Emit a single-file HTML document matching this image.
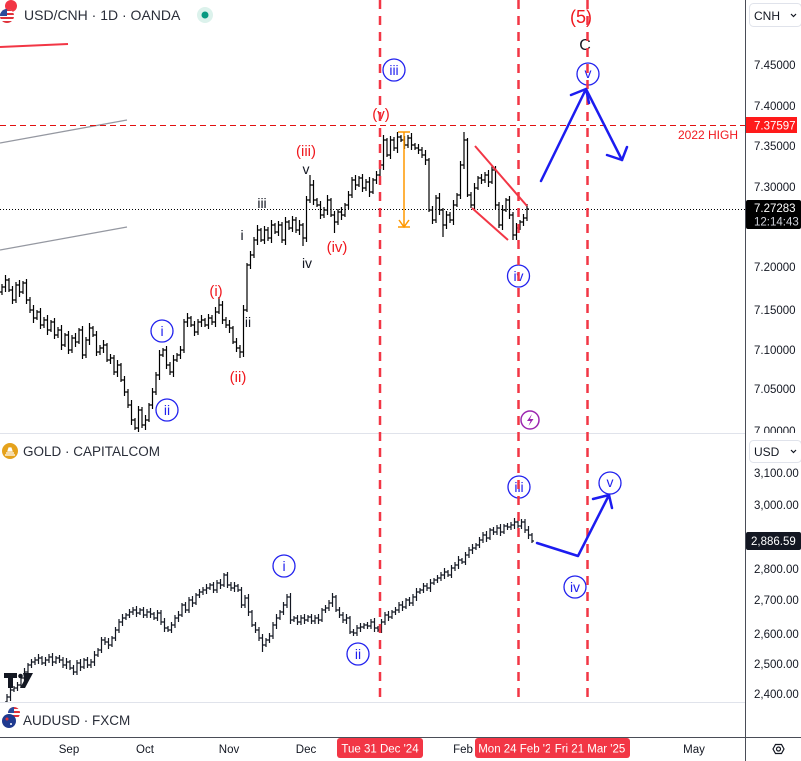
<!DOCTYPE html>
<html><head><meta charset="utf-8"><style>html,body{margin:0;padding:0;background:#fff;}svg{display:block;}</style></head>
<body>
<svg width="801" height="761" viewBox="0 0 801 761" xmlns="http://www.w3.org/2000/svg" font-family="'Liberation Sans', sans-serif">
<defs>
<clipPath id="p1"><rect x="0" y="0" width="745" height="433"/></clipPath>
<clipPath id="p2"><rect x="0" y="434" width="745" height="268"/></clipPath>
<clipPath id="ax1"><rect x="746" y="0" width="55" height="433"/></clipPath>
<clipPath id="flag1"><circle cx="7" cy="16" r="7"/></clipPath>
<clipPath id="flag2"><circle cx="14" cy="713" r="6"/></clipPath>
</defs>
<rect width="801" height="761" fill="#fff"/>

<!-- pane separators -->
<line x1="0" y1="433.5" x2="745" y2="433.5" stroke="#e0e3eb" stroke-width="1"/>
<line x1="0" y1="702.5" x2="745" y2="702.5" stroke="#e0e3eb" stroke-width="1"/>

<!-- drawings pane1 -->
<line x1="0" y1="143" x2="127" y2="120" stroke="#9598a1" stroke-width="1.3"/>
<line x1="0" y1="250" x2="127" y2="227" stroke="#9598a1" stroke-width="1.3"/>
<line x1="0" y1="47" x2="68" y2="44" stroke="#f23645" stroke-width="2"/>
<line x1="0" y1="125.5" x2="745" y2="125.5" stroke="#e01010" stroke-width="1" stroke-dasharray="6 4"/>
<line x1="0" y1="209.5" x2="745" y2="209.5" stroke="#000" stroke-width="1" stroke-dasharray="1 2"/>

<!-- USD/CNH bars -->
<g clip-path="url(#p1)">
<path fill="none" stroke="#000" stroke-width="1.2" d="M2 284V295M0 292h2M2 287h2M5.5 275V292M3.5 287h2M5.5 280h2M9 278V292M7 280h2M9 290h2M12.5 286V304M10.5 290h2M12.5 300h2M16 282V303M14 300h2M16 285h2M19.5 280V297M17.5 285h2M19.5 292h2M23 281V294M21 292h2M23 283h2M26.5 279V304M24.5 283h2M26.5 300h2M30 297V313M28 300h2M30 310h2M33.5 305V323M31.5 310h2M33.5 318h2M37 310V320M35 318h2M37 312h2M40.5 308V329M38.5 312h2M40.5 325h2M44 317V328M42 325h2M44 320h2M47.5 315V335M45.5 320h2M47.5 330h2M51 320V332M49 330h2M51 322h2M54.5 318V339M52.5 322h2M54.5 335h2M58 327V338M56 335h2M58 330h2M61.5 325V350M59.5 330h2M61.5 345h2M65 333V347M63 345h2M65 335h2M68.5 331V354M66.5 335h2M68.5 350h2M72 335V353M70 350h2M72 338h2M75.5 333V347M73.5 338h2M75.5 342h2M79 328V344M77 342h2M79 330h2M82.5 326V359M80.5 330h2M82.5 355h2M86 337V358M84 355h2M86 340h2M89.5 323V345M87.5 340h2M89.5 328h2M93 326V337M91 328h2M93 335h2M96.5 331V356M94.5 335h2M96.5 352h2M100 345V355M98 352h2M100 348h2M103.5 340V353M101.5 348h2M103.5 345h2M107 343V362M105 345h2M107 360h2M110.5 354V364M108.5 360h2M110.5 358h2M114 355V375M112 358h2M114 372h2M117.5 360V377M115.5 372h2M117.5 365h2M121 363V382M119 365h2M121 380h2M124.5 376V396M122.5 380h2M124.5 392h2M128 389V408M126 392h2M128 405h2M131.5 400V425M129.5 405h2M131.5 420h2M135 418V430M133 420h2M135 428h2M138.5 406V432M136.5 428h2M138.5 410h2M142 407V428M140 410h2M142 425h2M145.5 415V430M143.5 425h2M145.5 420h2M149 403V422M147 420h2M149 405h2M152.5 388V409M150.5 405h2M152.5 392h2M156 372V395M154 392h2M156 375h2M159.5 350V380M157.5 375h2M159.5 355h2M163 348V357M161 355h2M163 350h2M166.5 346V369M164.5 350h2M166.5 365h2M170 362V375M168 365h2M170 372h2M173.5 355V377M171.5 372h2M173.5 360h2M177 353V362M175 360h2M177 355h2M180.5 346V359M178.5 355h2M180.5 350h2M184 319V353M182 350h2M184 322h2M187.5 313V327M185.5 322h2M187.5 318h2M191 316V327M189 318h2M191 325h2M194.5 321V336M192.5 325h2M194.5 332h2M198 319V335M196 332h2M198 322h2M201.5 315V327M199.5 322h2M201.5 320h2M205 318V327M203 320h2M205 325h2M208.5 314V329M206.5 325h2M208.5 318h2M212 315V325M210 318h2M212 322h2M215.5 307V327M213.5 322h2M215.5 312h2M219 297V314M217 312h2M219 305h2M222.5 301V324M220.5 305h2M222.5 320h2M226 317V328M224 320h2M226 325h2M229.5 320V333M227.5 325h2M229.5 328h2M233 326V344M231 328h2M233 342h2M236.5 338V352M234.5 342h2M236.5 348h2M240 345V358M238 348h2M240 352h2M243.5 305V357M241.5 352h2M243.5 310h2M247 263V312M245 310h2M247 265h2M250.5 251V269M248.5 265h2M250.5 255h2M254 237V258M252 255h2M254 240h2M257.5 225V245M255.5 240h2M257.5 230h2M261 228V242M259 230h2M261 240h2M264.5 226V244M262.5 240h2M264.5 230h2M268 227V241M266 230h2M268 238h2M271.5 220V243M269.5 238h2M271.5 225h2M275 223V234M273 225h2M275 232h2M278.5 221V236M276.5 232h2M278.5 225h2M282 222V243M280 225h2M282 240h2M285.5 217V245M283.5 240h2M285.5 222h2M289 220V230M287 222h2M289 228h2M292.5 216V232M290.5 228h2M292.5 220h2M296 217V233M294 220h2M296 230h2M299.5 220V235M297.5 230h2M299.5 225h2M303 223V246M301 225h2M303 238h2M306.5 196V242M304.5 238h2M306.5 200h2M310 175V203M308 200h2M310 185h2M313.5 180V205M311.5 185h2M313.5 200h2M317 198V207M315 200h2M317 205h2M320.5 201V219M318.5 205h2M320.5 215h2M324 207V218M322 215h2M324 210h2M327.5 195V215M325.5 210h2M327.5 200h2M331 198V217M329 200h2M331 215h2M334.5 211V233M332.5 215h2M334.5 222h2M338 209V225M336 222h2M338 212h2M341.5 207V220M339.5 212h2M341.5 215h2M345 203V217M343 215h2M345 205h2M348.5 191V209M346.5 205h2M348.5 195h2M352 177V198M350 195h2M352 180h2M355.5 175V190M353.5 180h2M355.5 185h2M359 176V187M357 185h2M359 178h2M362.5 174V192M360.5 178h2M362.5 188h2M366 179V191M364 188h2M366 182h2M369.5 177V197M367.5 182h2M369.5 192h2M373 178V194M371 192h2M373 180h2M376.5 171V184M374.5 180h2M376.5 175h2M380 162V178M378 175h2M380 165h2M383.5 135V170M381.5 165h2M383.5 140h2M387 138V157M385 140h2M387 155h2M390.5 136V159M388.5 155h2M390.5 140h2M394 137V151M392 140h2M394 148h2M397.5 132V153M395.5 148h2M397.5 137h2M401 135V142M399 137h2M401 140h2M404.5 136V149M402.5 140h2M404.5 145h2M408 135V148M406 145h2M408 138h2M411.5 133V150M409.5 138h2M411.5 145h2M415 143V150M413 145h2M415 148h2M418.5 144V154M416.5 148h2M418.5 150h2M422 147V158M420 150h2M422 155h2M425.5 150V165M423.5 155h2M425.5 160h2M429 158V212M427 160h2M429 210h2M432.5 206V224M430.5 210h2M432.5 220h2M436 195V223M434 220h2M436 198h2M439.5 193V215M437.5 198h2M439.5 210h2M443 208V237M441 210h2M443 225h2M446.5 211V229M444.5 225h2M446.5 215h2M450 212V223M448 215h2M450 220h2M453.5 200V225M451.5 220h2M453.5 205h2M457 193V207M455 205h2M457 195h2M460.5 161V199M458.5 195h2M460.5 165h2M464 132V169M462 165h2M464 140h2M467.5 138V197M465.5 140h2M467.5 195h2M471 192V208M469 195h2M471 205h2M474.5 183V210M472.5 205h2M474.5 188h2M478 176V190M476 188h2M478 178h2M481.5 174V184M479.5 178h2M481.5 180h2M485 172V183M483 180h2M485 175h2M488.5 170V187M486.5 175h2M488.5 182h2M492 166V184M490 182h2M492 170h2M495.5 166V209M493.5 170h2M495.5 205h2M499 202V228M497 205h2M499 225h2M502.5 205V230M500.5 225h2M502.5 210h2M506 198V212M504 210h2M506 200h2M509.5 196V219M507.5 200h2M509.5 215h2M513 212V240M511 215h2M513 235h2M516.5 223V240M514.5 235h2M516.5 228h2M520 220V230M518 228h2M520 222h2M523.5 214V226M521.5 222h2M523.5 218h2M527 204V221M525 218h2M527 209h2"/>
</g>

<!-- GOLD bars -->
<g clip-path="url(#p2)">
<path fill="none" stroke="#131722" stroke-width="1.2" d="M7 694V705M5 702h2M7 697h2M10.5 686V701M8.5 697h2M10.5 690h2M14 686V692M12 690h2M14 688h2M17.5 682V691M15.5 688h2M17.5 685h2M21 675V688M19 685h2M21 678h2M24.5 668V682M22.5 678h2M24.5 672h2M28 663V674M26 672h2M28 665h2M31.5 659V668M29.5 665h2M31.5 662h2M35 657V665M33 662h2M35 660h2M38.5 654V664M36.5 660h2M38.5 658h2M42 656V665M40 658h2M42 663h2M45.5 657V666M43.5 663h2M45.5 660h2M49 654V663M47 660h2M49 657h2M52.5 653V666M50.5 657h2M52.5 662h2M56 656V664M54 662h2M56 658h2M59.5 655V663M57.5 658h2M59.5 660h2M63 657V668M61 660h2M63 665h2M66.5 658V669M64.5 665h2M66.5 662h2M70 660V670M68 662h2M70 668h2M73.5 665V675M71.5 668h2M73.5 672h2M77 660V675M75 672h2M77 663h2M80.5 659V671M78.5 663h2M80.5 667h2M84 658V669M82 667h2M84 660h2M87.5 657V668M85.5 660h2M87.5 665h2M91 659V668M89 665h2M91 662h2M94.5 651V666M92.5 662h2M94.5 655h2M98 648V657M96 655h2M98 650h2M101.5 637V653M99.5 650h2M101.5 640h2M105 637V645M103 640h2M105 642h2M108.5 638V649M106.5 642h2M108.5 645h2M112 636V647M110 645h2M112 638h2M115.5 627V641M113.5 638h2M115.5 630h2M119 619V633M117 630h2M119 622h2M122.5 614V626M120.5 622h2M122.5 618h2M126 613V620M124 618h2M126 615h2M129.5 609V618M127.5 615h2M129.5 612h2M133 607V615M131 612h2M133 610h2M136.5 606V617M134.5 610h2M136.5 613h2M140 608V615M138 613h2M140 610h2M143.5 607V618M141.5 610h2M143.5 615h2M147 609V618M145 615h2M147 612h2M150.5 608V618M148.5 612h2M150.5 614h2M154 612V620M152 614h2M154 618h2M157.5 610V621M155.5 618h2M157.5 613h2M161 610V625M159 613h2M161 622h2M164.5 618V632M162.5 622h2M164.5 628h2M168 626V632M166 628h2M168 630h2M171.5 622V633M169.5 630h2M171.5 625h2M175 615V628M173 625h2M175 618h2M178.5 611V622M176.5 618h2M178.5 615h2M182 603V617M180 615h2M182 605h2M185.5 602V613M183.5 605h2M185.5 610h2M189 597V613M187 610h2M189 600h2M192.5 596V607M190.5 600h2M192.5 603h2M196 593V605M194 603h2M196 595h2M199.5 589V598M197.5 595h2M199.5 592h2M203 587V595M201 592h2M203 590h2M206.5 584V594M204.5 590h2M206.5 588h2M210 583V590M208 588h2M210 585h2M213.5 582V593M211.5 585h2M213.5 590h2M217 580V593M215 590h2M217 583h2M220.5 579V589M218.5 583h2M220.5 585h2M224 573V587M222 585h2M224 575h2M227.5 572V588M225.5 575h2M227.5 585h2M231 582V591M229 585h2M231 588h2M234.5 582V592M232.5 588h2M234.5 586h2M238 584V592M236 586h2M238 590h2M241.5 587V608M239.5 590h2M241.5 605h2M245 595V608M243 605h2M245 598h2M248.5 594V616M246.5 598h2M248.5 612h2M252 610V627M250 612h2M252 625h2M255.5 622V633M253.5 625h2M255.5 630h2M259 627V641M257 630h2M259 638h2M262.5 634V652M260.5 638h2M262.5 645h2M266 638V647M264 645h2M266 640h2M269.5 633V643M267.5 640h2M269.5 636h2M273 622V639M271 636h2M273 625h2M276.5 614V629M274.5 625h2M276.5 618h2M280 610V620M278 618h2M280 612h2M283.5 602V615M281.5 612h2M283.5 605h2M287 594V608M285 605h2M287 597h2M290.5 593V624M288.5 597h2M290.5 620h2M294 616V622M292 620h2M294 618h2M297.5 615V625M295.5 618h2M297.5 622h2M301 615V625M299 622h2M301 618h2M304.5 614V624M302.5 618h2M304.5 620h2M308 615V622M306 620h2M308 617h2M311.5 614V624M309.5 617h2M311.5 621h2M315 615V624M313 621h2M315 618h2M318.5 614V624M316.5 618h2M318.5 620h2M322 608V622M320 620h2M322 610h2M325.5 605V613M323.5 610h2M325.5 608h2M329 600V611M327 608h2M329 603h2M332.5 593V607M330.5 603h2M332.5 597h2M336 595V612M334 597h2M336 610h2M339.5 607V618M337.5 610h2M339.5 615h2M343 612V623M341 615h2M343 620h2M346.5 614V624M344.5 620h2M346.5 618h2M350 616V634M348 618h2M350 632h2M353.5 629V636M351.5 632h2M353.5 633h2M357 625V636M355 633h2M357 628h2M360.5 623V632M358.5 628h2M360.5 627h2M364 623V629M362 627h2M364 625h2M367.5 622V629M365.5 625h2M367.5 626h2M371 619V629M369 626h2M371 622h2M374.5 618V632M372.5 622h2M374.5 628h2M378 626V632M376 628h2M378 630h2M381.5 619V633M379.5 630h2M381.5 622h2M385 612V625M383 622h2M385 615h2M388.5 611V621M386.5 615h2M388.5 617h2M392 610V619M390 617h2M392 612h2M395.5 607V615M393.5 612h2M395.5 610h2M399 602V613M397 610h2M399 605h2M402.5 601V611M400.5 605h2M402.5 607h2M406 598V609M404 607h2M406 600h2M409.5 597V606M407.5 600h2M409.5 603h2M413 594V606M411 603h2M413 597h2M416.5 588V601M414.5 597h2M416.5 592h2M420 588V594M418 592h2M420 590h2M423.5 583V593M421.5 590h2M423.5 586h2M427 583V591M425 586h2M427 588h2M430.5 579V592M428.5 588h2M430.5 583h2M434 578V585M432 583h2M434 580h2M437.5 575V583M435.5 580h2M437.5 578h2M441 572V581M439 578h2M441 575h2M444.5 568V579M442.5 575h2M444.5 572h2M448 570V577M446 572h2M448 575h2M451.5 565V578M449.5 575h2M451.5 568h2M455 562V571M453 568h2M455 565h2M458.5 556V569M456.5 565h2M458.5 560h2M462 558V564M460 560h2M462 562h2M465.5 552V565M463.5 562h2M465.5 555h2M469 547V558M467 555h2M469 550h2M472.5 544V554M470.5 550h2M472.5 548h2M476 543V550M474 548h2M476 545h2M479.5 537V548M477.5 545h2M479.5 540h2M483 532V543M481 540h2M483 535h2M486.5 531V542M484.5 535h2M486.5 538h2M490 528V540M488 538h2M490 530h2M493.5 527V535M491.5 530h2M493.5 532h2M497 525V535M495 532h2M497 528h2M500.5 524V536M498.5 528h2M500.5 532h2M504 524V534M502 532h2M504 526h2M507.5 523V530M505.5 526h2M507.5 527h2M511 522V530M509 527h2M511 525h2M514.5 518V529M512.5 525h2M514.5 522h2M518 520V528M516 522h2M518 526h2M521.5 519V529M519.5 526h2M521.5 522h2M525 519V533M523 522h2M525 530h2M528.5 526V539M526.5 530h2M528.5 535h2M532 533V543M530 535h2M532 541h2"/>
</g>

<!-- TradingView logo -->
<g fill="#131722">
<path d="M4 673h13v5h-4v10h-5v-10h-4z"/>
<circle cx="20.5" cy="676" r="2.3"/>
<path d="M23 673h10l-8 15h-5l4.5-8z"/>
</g>

<!-- triangle, orange arrow -->
<line x1="475" y1="146" x2="527" y2="206" stroke="#f23645" stroke-width="2"/>
<line x1="472" y1="208" x2="508" y2="240" stroke="#f23645" stroke-width="2"/>
<g stroke="#ff9800" stroke-width="1.5" fill="none">
<line x1="404" y1="132" x2="404" y2="227"/>
<line x1="398" y1="132" x2="410" y2="132"/>
<line x1="398" y1="227" x2="410" y2="227"/>
<polyline points="399,220 404,227 409,220"/>
</g>

<!-- circle wave labels -->
<g fill="#fff" stroke="#2222ee" stroke-width="1.3">
<circle cx="394" cy="70" r="11"/>
<circle cx="518.5" cy="276" r="11"/>
<circle cx="588" cy="74" r="11"/>
<circle cx="162" cy="331" r="11"/>
<circle cx="167" cy="410" r="11"/>
<circle cx="284" cy="566" r="11"/>
<circle cx="358" cy="654" r="11"/>
<circle cx="519" cy="487" r="11"/>
<circle cx="575" cy="587" r="11"/>
<circle cx="610" cy="483" r="11"/>
</g>
<g fill="#2222ee" font-size="14" text-anchor="middle">
<text x="394" y="75">iii</text>
<text x="518.5" y="281">iv</text>
<text x="588" y="78">v</text>
<text x="162" y="336">i</text>
<text x="167" y="415">ii</text>
<text x="284" y="571">i</text>
<text x="358" y="659">ii</text>
<text x="519" y="492">iii</text>
<text x="575" y="592">iv</text>
<text x="610" y="487">v</text>
</g>

<!-- red labels -->
<g fill="#f0181e" font-size="15" text-anchor="middle">
<text x="581" y="23" font-size="18">(5)</text>
<text x="381" y="119">(v)</text>
<text x="306" y="156">(iii)</text>
<text x="337" y="252">(iv)</text>
<text x="216" y="296">(i)</text>
<text x="238" y="382">(ii)</text>
</g>
<!-- black labels -->
<g fill="#131722" font-size="14" text-anchor="middle">
<text x="585" y="50" font-size="16">C</text>
<text x="306" y="174">v</text>
<text x="262" y="208">iii</text>
<text x="242" y="240">i</text>
<text x="307" y="268">iv</text>
<text x="248" y="327">ii</text>
</g>

<!-- vertical red dashed lines -->
<g stroke="#f23645" stroke-width="2.5" stroke-dasharray="9 7">
<line x1="380" y1="0" x2="380" y2="700"/>
<line x1="518.5" y1="0" x2="518.5" y2="700"/>
<line x1="587.5" y1="0" x2="587.5" y2="700"/>
</g>

<!-- purple icon -->
<circle cx="530" cy="420" r="9" fill="#fff" stroke="#9c27b0" stroke-width="1.5"/>
<path d="M532 414l-5 7h3.5l-2 5 5-7h-3.5z" fill="#9c27b0"/>

<!-- blue arrows -->
<g stroke="#1c1cf0" stroke-width="2.5" fill="none" stroke-linecap="round" stroke-linejoin="round">
<polyline points="541,181 586,89 622,160"/>
<polyline points="571,95 586,89 589,103"/>
<polyline points="607,155 622,160 627,147"/>
<polyline points="537,543 578,556 609,495"/>
<polyline points="593,499 609,495 612,508"/>
</g>

<!-- 2022 HIGH -->
<text x="738" y="139" fill="#f0181e" font-size="12" text-anchor="end">2022 HIGH</text>

<!-- right axis -->
<line x1="745.5" y1="0" x2="745.5" y2="761" stroke="#4a4d57" stroke-width="1"/>
<g fill="#131722" font-size="11.5">
<text x="754" y="69">7.45000</text>
<text x="754" y="110">7.40000</text>
<text x="754" y="150">7.35000</text>
<text x="754" y="191">7.30000</text>
<text x="754" y="271">7.20000</text>
<text x="754" y="314">7.15000</text>
<text x="754" y="354">7.10000</text>
<text x="754" y="393">7.05000</text>
<text x="754" y="435" clip-path="url(#ax1)">7.00000</text>
<text x="754" y="477">3,100.00</text>
<text x="754" y="509">3,000.00</text>
<text x="754" y="573">2,800.00</text>
<text x="754" y="604">2,700.00</text>
<text x="754" y="638">2,600.00</text>
<text x="754" y="668">2,500.00</text>
<text x="754" y="698">2,400.00</text>
</g>
<!-- CNH / USD buttons -->
<rect x="749.5" y="3.5" width="52" height="23" rx="4" fill="#fff" stroke="#e0e3eb"/>
<text x="754" y="20" fill="#131722" font-size="12">CNH</text>
<path d="M791 14l2.5 2.5 2.5-2.5" fill="none" stroke="#131722" stroke-width="1.2"/>
<rect x="749.5" y="440.5" width="52" height="22" rx="4" fill="#fff" stroke="#e0e3eb"/>
<text x="754" y="456" fill="#131722" font-size="12">USD</text>
<path d="M791 450l2.5 2.5 2.5-2.5" fill="none" stroke="#131722" stroke-width="1.2"/>
<!-- price boxes -->
<rect x="746" y="117" width="51" height="16" fill="#ff1a1a"/>
<text x="754" y="129.5" fill="#fff" font-size="11.5">7.37597</text>
<rect x="746" y="200" width="55" height="29" rx="2" fill="#000"/>
<text x="754" y="212" fill="#fff" font-size="11.5">7.27283</text>
<text x="754" y="225.5" fill="#d1d4dc" font-size="11.5">12:14:43</text>
<rect x="746" y="532" width="55" height="18" rx="2" fill="#131722"/>
<text x="751" y="545" fill="#fff" font-size="11.5">2,886.59</text>

<!-- time axis -->
<line x1="0" y1="737.5" x2="801" y2="737.5" stroke="#4a4d57" stroke-width="1"/>
<g fill="#131722" font-size="11.5" text-anchor="middle">
<text x="69" y="753">Sep</text>
<text x="145" y="753">Oct</text>
<text x="229" y="753">Nov</text>
<text x="306" y="753">Dec</text>
<text x="463" y="753">Feb</text>
<text x="694" y="753">May</text>
</g>
<rect x="337" y="738" width="86" height="20" rx="3" fill="#f23645"/>
<text x="380" y="752.5" fill="#fff" font-size="11.5" text-anchor="middle">Tue 31 Dec '24</text>
<rect x="475" y="738" width="86" height="20" rx="3" fill="#f23645"/>
<text x="518" y="752.5" fill="#fff" font-size="11.5" text-anchor="middle">Mon 24 Feb '25</text>
<rect x="550" y="738" width="80" height="20" rx="3" fill="#f23645"/>
<text x="590" y="752.5" fill="#fff" font-size="11.5" text-anchor="middle">Fri 21 Mar '25</text>
<!-- settings icon -->
<path d="M773 749l2.5-4.5h6l2.5 4.5-2.5 4.5h-6z" fill="none" stroke="#131722" stroke-width="1.2"/>
<circle cx="778.5" cy="749" r="2" fill="none" stroke="#131722" stroke-width="1.2"/>

<!-- headers -->
<circle cx="11" cy="6" r="6" fill="#f23645"/>
<g clip-path="url(#flag1)">
<rect x="0" y="9" width="14" height="14" fill="#fff"/>
<rect x="0" y="9" width="14" height="2" fill="#e0313a"/>
<rect x="0" y="13" width="14" height="2" fill="#e0313a"/>
<rect x="0" y="17" width="14" height="2" fill="#e0313a"/>
<rect x="0" y="21" width="14" height="2" fill="#e0313a"/>
<rect x="0" y="9" width="7" height="7" fill="#2b4a9b"/>
</g>
<text x="24" y="20" fill="#2a2e39" font-size="14">USD/CNH · 1D · OANDA</text>
<circle cx="205" cy="15" r="8" fill="#dcf2ec"/>
<circle cx="205" cy="15" r="3.5" fill="#089981"/>

<circle cx="10" cy="451" r="8" fill="#e5a21c"/>
<path d="M6 453h8M5 455h10M8 451l1-3h2l1 3z" stroke="#fff" stroke-width="1.2" fill="#fff"/>
<text x="23" y="456" fill="#2a2e39" font-size="13.5">GOLD · CAPITALCOM</text>

<g clip-path="url(#flag2)">
<rect x="8" y="707" width="12" height="12" fill="#fff"/>
<rect x="8" y="707" width="12" height="2" fill="#e0313a"/>
<rect x="8" y="711" width="12" height="2" fill="#e0313a"/>
<rect x="8" y="715" width="12" height="2" fill="#e0313a"/>
<rect x="8" y="707" width="6" height="6" fill="#2b4a9b"/>
</g>
<circle cx="9" cy="721" r="7" fill="#1f3a8f"/>
<circle cx="7" cy="719" r="1.5" fill="#e0313a"/>
<circle cx="11" cy="724" r="1" fill="#fff"/>
<text x="23" y="725" fill="#2a2e39" font-size="13.5">AUDUSD · FXCM</text>
</svg>
</body></html>
